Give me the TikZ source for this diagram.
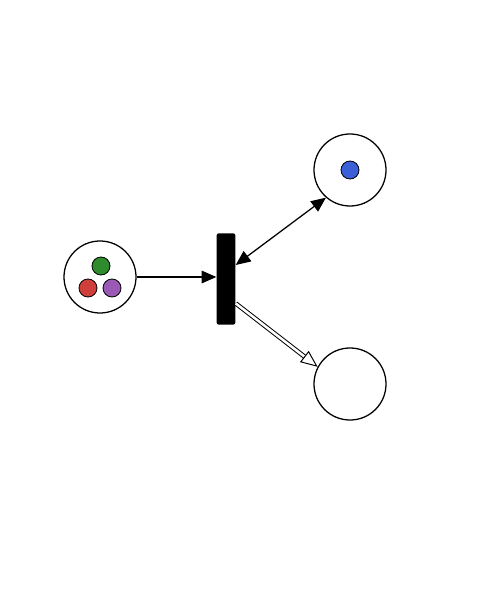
\documentclass[tikz,border=0pt]{standalone}
\usepackage{xcolor}
\usepackage{tikz}
\usetikzlibrary{arrows.meta, positioning, calc}
\definecolor{tokgreen}{RGB}{46,139,46}
\definecolor{tokred}{RGB}{208,64,58}
\definecolor{tokpurple}{RGB}{155,89,182}
\definecolor{tokblue}{RGB}{59,95,214}
\tikzstyle{arrow} = [line width=0.9pt,-{Triangle[length=10.5pt,width=9pt]}]
\tikzstyle{place} = [circle, draw=black, line width=0.9pt, minimum size=1.8cm, inner sep=0pt]
\tikzstyle{transition} = [rectangle, rounded corners=1.5pt, fill=black, minimum width=0.47cm, minimum height=2.28cm, inner sep=0pt]
\tikzstyle{token} = [circle, draw=black, line width=0.6pt, minimum size=0.45cm, inner sep=0pt]

\begin{document}
\begin{tikzpicture}[x=0.025cm, y=-0.025cm]
    \useasboundingbox (0,0) rectangle (490,596);

    % Places
    \node[place] (pin) at (100,277) {};
    \node[place] (ptop) at (350,170) {};
    \node[place] (pbot) at (350,384) {};

    % Transition
    \node[transition] (t) at (226,279) {};

    % Tokens
    \node[token, fill=tokgreen] (g) at (101,266) {};
    \node[token, fill=tokred] (r) at (88,288) {};
    \node[token, fill=tokpurple] (v) at (112,288) {};
    \node[token, fill=tokblue] (b) at (350,170) {};

    % Arcs
    \draw[arrow] (pin) -- (pin -| t.west);
    \draw[arrow, {Triangle[length=10.5pt,width=9pt]}-{Triangle[length=10.5pt,width=9pt]}] ([yshift=0.35cm]t.east) -- (ptop.229);
    \draw[line width=0.7pt, double, double distance=1.8pt, -{Triangle[open, length=12pt, width=10pt]}] ([yshift=-0.61cm]t.east) -- (pbot.152);

\end{tikzpicture}
\end{document}
